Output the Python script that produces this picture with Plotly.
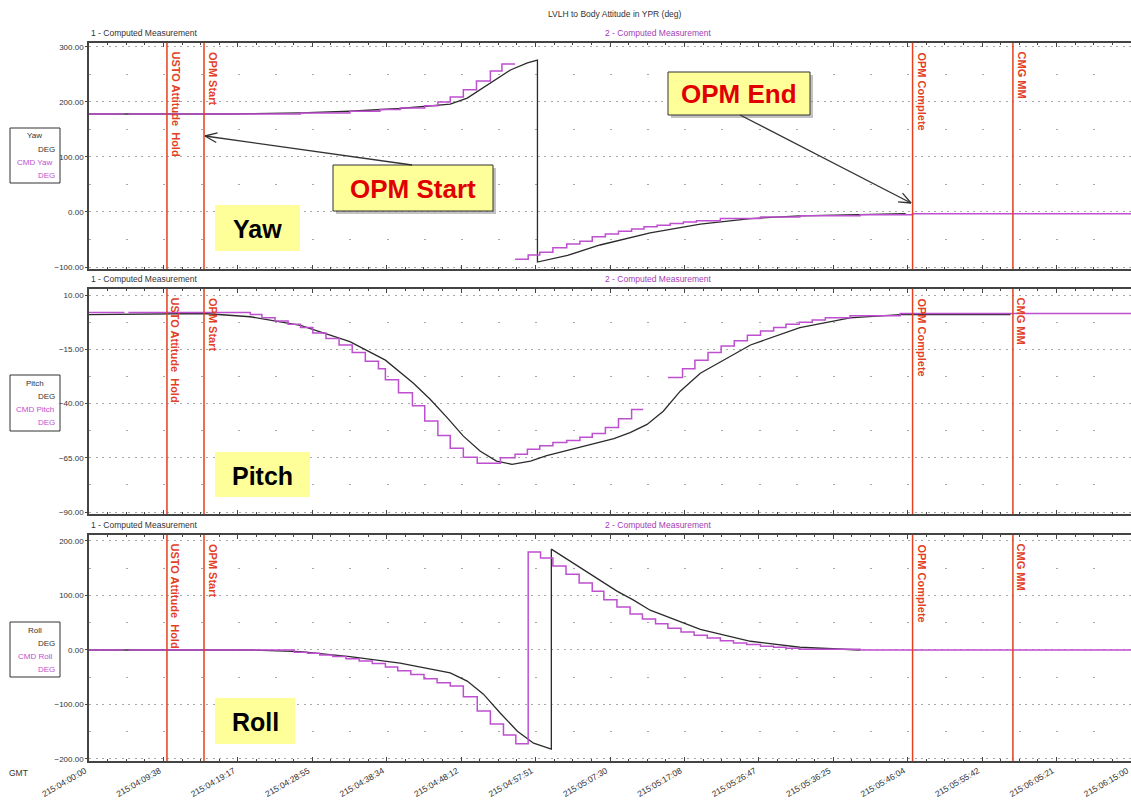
import math
import plotly.graph_objects as go

W, H = 1131, 809
FONT_N = "Liberation Sans Narrow, Arial Narrow, Arial"
FONT = "Arial, Liberation Sans"

# ---------------- data (time in minutes since 215:04:00:00) ----------------
TICK_LABELS = ["215:04:00:00", "215:04:09:38", "215:04:19:17", "215:04:28:55", "215:04:38:34",
               "215:04:48:12", "215:04:57:51", "215:05:07:30", "215:05:17:08", "215:05:26:47",
               "215:05:36:25", "215:05:46:04", "215:05:55:42", "215:06:05:21", "215:06:15:00"]

EVENT_NAMES = ["USTO Attitude\u00a0 Hold", "OPM Start", "OPM Complete", "CMG MM"]
EVENT_T = [10.1, 14.9, 106.7, 119.7]

YAW_T = [0, 18.5, 27.4, 33.8, 40.3, 43.5, 46.8, 49.0, 52.0, 54.6, 56.8, 58.1,
         58.1, 62.0, 66.2, 72.7, 79.2, 85.7, 92.1, 98.6, 105.8]
YAW = [178, 178, 180, 183, 188, 192, 196, 207, 234, 258, 271, 276,
       -91, -79, -60, -38, -22, -12, -7, -5, -3]

YAW_CMD_T = [0, 4.6, 4.8, 5.1, 27.4, 33.8, 37.7, 40.3, 43.5, 45.2, 46.8, 48.5,
             50.2, 52.0, 53.5, 55.2, 55.2, 55.2, 56.9, 58.4, 60.1, 61.9, 63.6, 65.2,
             66.9, 68.6, 70.3, 71.9, 73.6, 75.3, 77.0, 78.7, 81.8, 87.0, 92.1, 99.9,
             106.7, 135]
YAW_CMD = [178, 178, None, 178, 180, 183, 186, 189, 193, 200, 209, 222,
           238, 256, 269, 269, None, -86, -78, -73, -65, -58, -53, -45,
           -40, -35, -31, -27, -24, -21, -18, -16, -12, -9, -7, -5,
           -3, -3]

PITCH_T = [0, 14.9, 20.9, 27.4, 33.8, 38.4, 42.0, 44.2, 46.4, 48.5, 50.7, 52.8,
           54.8, 57.2, 59.3, 61.5, 63.6, 65.8, 68.0, 70.1, 72.3, 74.4, 76.6, 79.2,
           85.7, 92.1, 98.6, 105.1, 119.4]
PITCH = [1, 1.5, 0, -4, -11.5, -20, -30.5, -38, -46.5, -55, -62, -66.5,
         -68, -66.5, -64, -62, -60, -58.3, -56.2, -53.4, -49.6, -43.5, -34.3, -26,
         -13, -5, -0.5, 1, 1]

PITCH_CMD_T = [0, 4.6, 4.8, 5.1, 20.9, 22.4, 24.1, 25.8, 27.4, 29.0, 30.7, 32.4,
               34.1, 35.8, 37.5, 38.4, 40.1, 41.9, 43.5, 45.2, 46.8, 48.5, 50.3, 53.3,
               55.2, 56.8, 58.4, 60.1, 61.9, 63.6, 65.2, 66.9, 68.6, 70.3, 71.8, 71.8,
               75.0, 76.9, 78.5, 80.2, 81.9, 83.6, 85.3, 87.0, 88.7, 90.3, 92.0, 93.7,
               95.4, 98.6, 105.1, 135]
PITCH_CMD = [2, 2, None, 2, 1, -0.5, -2, -3.5, -5, -7.5, -10, -13,
             -16.5, -20.5, -24, -29, -35, -41, -48, -54.7, -60.6, -64.8, -67.5, -65,
             -63.4, -61, -59.5, -58, -57, -55.5, -53.8, -51, -47, -42.7, -42.7, None,
             -28, -24, -20, -16.5, -13.5, -11, -8.5, -6.5, -5, -3.5, -2.5, -1.5,
             -0.5, 0.5, 1.5, 1.5]

ROLL_T = [0, 20.9, 27.4, 33.8, 40.3, 46.8, 49.0, 51.1, 53.3, 55.5, 57.6, 59.9,
          59.9, 61.9, 64.0, 66.2, 68.4, 70.5, 72.7, 79.2, 85.7, 92.1, 98.6, 99.9]
ROLL = [0, 0, -3, -12, -24, -42, -57, -81, -116, -149, -171, -182,
        185, 167, 147, 127, 108, 92, 73, 38, 16, 5, 0, 0]

ROLL_CMD_T = [0, 4.6, 4.8, 5.1, 26.6, 28.3, 29.9, 31.6, 33.3, 35.0, 36.7, 38.4,
              40.0, 41.7, 43.4, 45.1, 46.8, 48.5, 50.3, 52.0, 53.7, 55.3, 56.9, 58.5,
              60.1, 61.8, 63.5, 65.2, 66.7, 68.4, 70.1, 71.7, 73.4, 75.0, 76.7, 78.4,
              80.1, 81.8, 83.5, 85.2, 87.0, 88.7, 90.3, 92.1, 99.9, 135]
ROLL_CMD = [0, 0, None, 0, -4, -6, -9, -12, -16, -20, -25, -31,
            -38, -45, -53, -60, -66, -86, -112, -136, -156, -172, 180, 169,
            154, 139, 123, 108, 92, 79, 66, 57, 48, 40, 33, 27,
            22, 17, 13, 10, 7, 5, 3, 1.5, 0, 0]

assert len(YAW_T) == len(YAW) and len(YAW_CMD_T) == len(YAW_CMD)
assert len(PITCH_T) == len(PITCH) and len(PITCH_CMD_T) == len(PITCH_CMD)
assert len(ROLL_T) == len(ROLL) and len(ROLL_CMD_T) == len(ROLL_CMD)

PANEL_NAMES = ["Yaw", "Pitch", "Roll"]
Y_TICKS = [[-100, 0, 100, 200, 300], [-90, -65, -40, -15, 10], [-200, -100, 0, 100, 200]]
Y_RANGES = [[-103.6, 307], [-90.9, 12.8], [-203.7, 211]]


def tick_minutes(lbl):
    _, hh, mm, ss = lbl.split(":")
    return (int(hh) - 4) * 60 + int(mm) + int(ss) / 60.0


TICK_POS = [tick_minutes(l) for l in TICK_LABELS]
TICK_POS[-1] = 134.999

# ---------------- layout helpers (pixel -> paper) ----------------
def px(x):
    return x / W


def py(y):
    return 1 - y / H


PANEL_PIX = [(43, 269), (289, 514), (535, 761)]  # top, bottom in px
LEFT = 89

BLACK = "#2b2b2b"
MAG = "#BE4FD0"
RED = "#E2401E"
AXC = "#444444"

fig = go.Figure()
series = [(YAW_T, YAW, YAW_CMD_T, YAW_CMD),
          (PITCH_T, PITCH, PITCH_CMD_T, PITCH_CMD),
          (ROLL_T, ROLL, ROLL_CMD_T, ROLL_CMD)]

layout = dict(width=W, height=H, margin=dict(l=0, r=0, t=0, b=0, autoexpand=False),
              paper_bgcolor="white", plot_bgcolor="white", showlegend=False)

shapes = []
annotations = []


def note(x, y, text, size, color, family, xanchor="center", yanchor="middle"):
    annotations.append(dict(x=px(x), y=py(y), xref="paper", yref="paper", text=text,
                            showarrow=False, xanchor=xanchor, yanchor=yanchor,
                            font=dict(size=size, color=color, family=family)))


for i, (t, v, ct, cv) in enumerate(series):
    xs = "x" if i == 0 else f"x{i+1}"
    ys = "y" if i == 0 else f"y{i+1}"
    xk = "xaxis" if i == 0 else f"xaxis{i+1}"
    yk = "yaxis" if i == 0 else f"yaxis{i+1}"
    fig.add_trace(go.Scatter(x=t, y=v, mode="lines", xaxis=xs, yaxis=ys,
                             line=dict(color=BLACK, width=1.3), hoverinfo="skip"))
    fig.add_trace(go.Scatter(x=ct, y=cv, mode="lines", xaxis=xs, yaxis=ys,
                             line=dict(color=MAG, width=1.5, shape="hv"),
                             connectgaps=False, hoverinfo="skip"))
    top, bot = PANEL_PIX[i]
    ticks = Y_TICKS[i]
    step = ticks[1] - ticks[0]
    layout[xk] = dict(domain=[px(LEFT), 1], anchor=ys, range=[0, 135], automargin=False,
                      tickmode="array", tickvals=TICK_POS, ticktext=TICK_LABELS,
                      showticklabels=(i == 2), tickangle=-30, ticklabeloverflow="allow",
                      ticklabelshift=-4,
                      tickfont=dict(size=8.5, color="#333", family=FONT_N),
                      ticks="inside", ticklen=4, tickcolor=AXC,
                      showline=True, linecolor=AXC, linewidth=1.5, mirror="allticks",
                      showgrid=False, zeroline=False,
                      minor=dict(dtick=135 / 56, tick0=0, ticks="inside", ticklen=2,
                                 tickcolor=AXC, showgrid=False))
    layout[yk] = dict(domain=[py(bot), py(top)], anchor=xs, range=Y_RANGES[i], automargin=False,
                      tickmode="array", tickvals=ticks, tickformat=".2f",
                      tickfont=dict(size=8, color="#333", family=FONT_N),
                      ticks="outside", ticklen=2, tickcolor=AXC,
                      showline=True, linecolor=AXC, linewidth=1.5,
                      showgrid=True, gridcolor="#a8a8a8", gridwidth=1, griddash="2px,4.5px",
                      zeroline=False,
                      minor=dict(tickmode="array", tickvals=[tv + step / 2 for tv in ticks[:-1]],
                                 ticks="", showgrid=True, gridcolor="#a8a8a8", gridwidth=1,
                                 griddash="2px,35.2px"))
    # event lines + labels
    for name, et in zip(EVENT_NAMES, EVENT_T):
        shapes.append(dict(type="line", xref=xs, yref=f"{ys} domain", x0=et, x1=et, y0=0, y1=1,
                           line=dict(color=RED, width=1.5)))
        annotations.append(dict(x=et, xref=xs, y=1, yref=f"{ys} domain", text=f"<b>{name}</b>",
                                textangle=90, xanchor="left", yanchor="top", xshift=1, yshift=-7,
                                showarrow=False, font=dict(size=11, color=RED, family=FONT)))
    # header texts
    note(LEFT, top - 10, "1 - Computed Measurement", 8.5, "#333", FONT_N, xanchor="left")
    note(658, top - 10, "2 - Computed Measurement", 8.5, "#A33CB5", FONT_N)

# title, GMT
note(615, 14, "LVLH to Body Attitude in YPR (deg)", 8.5, "#333", FONT_N)
note(7, 773, "GMT", 8.5, "#333", FONT_N, xanchor="left")

# legend boxes
LEG_BOX = [(128, 183), (375, 431), (622, 677)]
for name, (bt, bb) in zip(PANEL_NAMES, LEG_BOX):
    shapes.append(dict(type="rect", xref="paper", yref="paper", x0=px(10), x1=px(60),
                       y0=py(bb), y1=py(bt), line=dict(color="#333", width=1),
                       fillcolor="rgba(0,0,0,0)"))
    rows = [(name, "#333", "center", 34.5), ("DEG", "#333", "right", 57),
            ("CMD " + name, MAG, "center", 34.5), ("DEG", MAG, "right", 57)]
    for k, (txt, col, anc, xx) in enumerate(rows):
        note(xx, bt + 8 + k * 13.3, txt, 8, col, FONT_N, xanchor=anc)

# yellow panel labels
YEL = [(215, 300, 205, 251), (215, 310, 452, 497), (215, 295, 698, 744)]
for name, (x0, x1, y0, y1) in zip(PANEL_NAMES, YEL):
    shapes.append(dict(type="rect", xref="paper", yref="paper", x0=px(x0), x1=px(x1),
                       y0=py(y1), y1=py(y0), line=dict(width=0), fillcolor="#FFFF99"))
    note((x0 + x1) / 2, (y0 + y1) / 2 + 1, f"<b>{name}</b>", 25, "black", FONT)

# callouts
CALLOUTS = [("OPM Start", 333, 493, 165, 211), ("OPM End", 668, 810, 72, 115)]
for txt, x0, x1, y0, y1 in CALLOUTS:
    shapes.append(dict(type="rect", xref="paper", yref="paper", x0=px(x0 + 3), x1=px(x1 + 3),
                       y0=py(y1 + 3), y1=py(y0 + 3), line=dict(width=0),
                       fillcolor="rgba(120,120,120,0.45)"))
    shapes.append(dict(type="rect", xref="paper", yref="paper", x0=px(x0), x1=px(x1),
                       y0=py(y1), y1=py(y0), line=dict(color="#333", width=1), fillcolor="#FFFF99"))
    note((x0 + x1) / 2, (y0 + y1) / 2 + 1, f"<b>{txt}</b>", 26, "#E00000", FONT)


def arrow(x0, y0, x1, y1, L=13, ang=22):
    out = [dict(type="line", xref="paper", yref="paper", x0=px(x0), y0=py(y0), x1=px(x1), y1=py(y1),
                line=dict(color="#333", width=1.3))]
    dx, dy = x1 - x0, y1 - y0
    n = math.hypot(dx, dy)
    ux, uy = dx / n, dy / n
    for s in (-1, 1):
        a = math.radians(ang) * s
        rx = ux * math.cos(a) - uy * math.sin(a)
        ry = ux * math.sin(a) + uy * math.cos(a)
        out.append(dict(type="line", xref="paper", yref="paper", x0=px(x1), y0=py(y1),
                        x1=px(x1 - L * rx), y1=py(y1 - L * ry), line=dict(color="#333", width=1.3)))
    return out


shapes += arrow(412, 165, 205, 136)
shapes += arrow(740, 115, 911, 203)

layout["shapes"] = shapes
layout["annotations"] = annotations
fig.update_layout(**layout)
fig.write_html("out.html")
